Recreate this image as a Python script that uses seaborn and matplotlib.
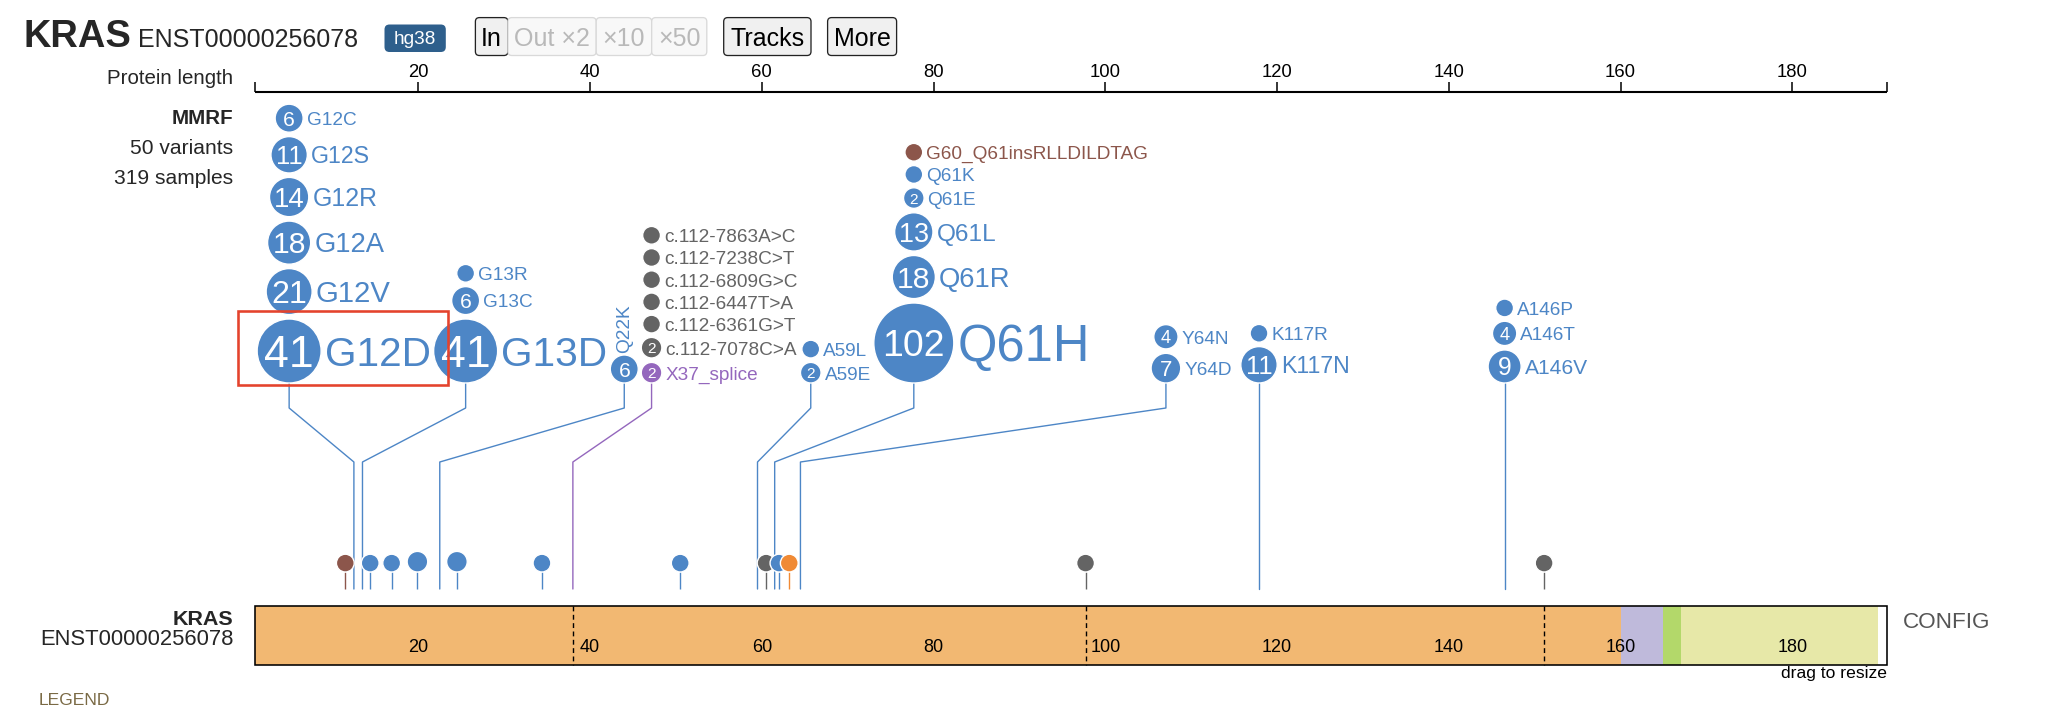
import numpy as np
import pandas as pd
import matplotlib
matplotlib.use("Agg")
import matplotlib.pyplot as plt
import seaborn as sns
from matplotlib.patches import Rectangle, FancyBboxPatch
from matplotlib.font_manager import FontProperties

# ---- values (KRAS, MMRF track) ----
gene = "KRAS"
transcript = "ENST00000256078"
genome = "hg38"
track_name = "MMRF"
n_variants = 50
n_samples = 319

ruler_ticks = [20, 40, 60, 80, 100, 120, 140, 160, 180]
ruler_start, ruler_end = 1, 191
domain_start = [1, 160, 165, 167]
domain_end = [160, 165, 167, 190]
exon_bounds = [38.0, 97.7, 151.1]

# expanded clusters, stem position on the ruler (codon centre)
cluster_pos = [12.5, 13.5, 22.5, 38.0, 59.5, 61.5, 64.5, 117.9, 146.5]

var_label = ["G12C", "G12S", "G12R", "G12A", "G12V", "G12D",
             "G13R", "G13C", "G13D",
             "Q22K",
             "c.112-7863A>C", "c.112-7238C>T", "c.112-6809G>C", "c.112-6447T>A",
             "c.112-6361G>T", "c.112-7078C>A", "X37_splice",
             "A59L", "A59E",
             "G60_Q61insRLLDILDTAG", "Q61K", "Q61E", "Q61L", "Q61R", "Q61H",
             "Y64N", "Y64D",
             "K117R", "K117N",
             "A146P", "A146T", "A146V"]
var_count = [6, 11, 14, 18, 21, 41,
             1, 6, 41,
             6,
             1, 1, 1, 1, 1, 2, 2,
             1, 2,
             1, 1, 2, 13, 18, 102,
             4, 7,
             1, 11,
             1, 4, 9]
var_class = (["missense"] * 10 + ["intron"] * 6 + ["splice"] + ["missense"] * 2
             + ["ins"] + ["missense"] * 12)
var_cluster = [0] * 6 + [1] * 3 + [2] + [3] * 7 + [4] * 2 + [5] * 6 + [6] * 2 + [7] * 2 + [8] * 3

# variants left on the stems just above the protein
low_pos = [11.5, 14.4, 16.9, 19.9, 24.5, 34.4, 50.5, 60.5, 62.0, 63.2, 97.7, 151.1]
low_count = [1, 1, 1, 2, 2, 1, 1, 1, 1, 1, 1, 1]
low_class = ["ins", "missense", "missense", "missense", "missense", "missense",
             "missense", "intron", "missense", "nonsense", "intron", "intron"]

buttons = ["In", "Out \u00d72", "\u00d710", "\u00d750", "Tracks", "More"]

# ---- style ----
class_colors = {"missense": "#4d86c6", "intron": "#646464", "splice": "#9467bd",
                "ins": "#8c564b", "nonsense": "#f08a35"}
domain_colors = ["#f2b872", "#bfbadb", "#b3d86a", "#e7e8a8"]
FONT = ["Liberation Sans", "DejaVu Sans"]

sns.set_style("white")
plt.rcParams["font.family"] = FONT

W, H, DPI = 2050, 712, 100
PT = 72 / DPI                      # px -> pt
PX20, PX_PER_AA = 418.3, 8.5875    # where the ruler sits
x_lo = 20 - PX20 / PX_PER_AA
x_hi = x_lo + W / PX_PER_AA

fig = plt.figure(figsize=(W / DPI, H / DPI), dpi=DPI)
fig.patch.set_facecolor("white")
hud = fig.add_axes([0, 0, 1, 1])
hud.set_xlim(0, W)
hud.set_ylim(H, 0)
hud.set_axis_off()
ax = fig.add_axes([0, 0, 1, 1])
ax.set_xlim(x_lo, x_hi)
ax.set_ylim(H, 0)
ax.set_axis_off()

renderer = fig.canvas.get_renderer()


def to_px(v):
    return ax.transData.transform((v, 0))[0]


def to_x(p):
    return ax.transData.inverted().transform((p, 0))[0]


def text_w(s, px, weight="normal"):
    fp = FontProperties(family=FONT, size=px * PT, weight=weight)
    return renderer.get_text_width_height_descent(s, fp, ismath=False)[0]


# disc radius scale (count -> px)
r_count = [1, 2, 6, 11, 21, 41, 102]
r_px = [8.9, 10.3, 14, 18.2, 23, 32, 40]


def radius(n):
    return float(np.interp(n, r_count, r_px))


STACK_BASE = 383.0
STACK_GAP = 4.4
LABEL_PAD = 3.5
CL_GAP = 3.0
KINK1, KINK2, STEM_END = 408, 462, 589
LOW_BASE = 572

# ---- layout of expanded clusters ----
nv = len(var_label)
n_cl = len(cluster_pos)
var_r = [radius(c) for c in var_count]
var_fs = [max(19, 1.27 * r) for r in var_r]
var_w = [text_w(l, f) for l, f in zip(var_label, var_fs)]
members = [[i for i in range(nv) if var_cluster[i] == c] for c in range(n_cl)]
L = [max(var_r[i] for i in m) for m in members]
R = [L[c] if len(m) == 1 else max(var_r[i] + LABEL_PAD + var_w[i] for i in m)
     for c, m in enumerate(members)]

var_y = [0.0] * nv
for m in members:
    y = STACK_BASE
    for i in reversed(m):
        var_y[i] = y - var_r[i]
        y -= 2 * var_r[i] + STACK_GAP

# pack clusters left to right, as close to their stems as they fit
left_bound = to_px(ruler_start) + 2
desired = [to_px(p) for p in cluster_pos]
blocks = []
for c in range(n_cl):
    blocks.append({"idx": [c], "offs": [0.0], "x": max(desired[c], left_bound + L[c])})
    while len(blocks) > 1:
        a, b = blocks[-2], blocks[-1]
        a_right = a["x"] + a["offs"][-1] + R[a["idx"][-1]]
        b_left = b["x"] - L[b["idx"][0]]
        if a_right + CL_GAP <= b_left:
            break
        shift = a["offs"][-1] + R[a["idx"][-1]] + CL_GAP + L[b["idx"][0]]
        idx = a["idx"] + b["idx"]
        offs = a["offs"] + [shift + o for o in b["offs"]]
        x0 = np.mean([desired[k] - o for k, o in zip(idx, offs)])
        x0 = max(x0, left_bound + L[idx[0]])
        blocks[-2:] = [{"idx": idx, "offs": offs, "x": x0}]
cl_x = [0.0] * n_cl
for b in blocks:
    for k, o in zip(b["idx"], b["offs"]):
        cl_x[k] = b["x"] + o
var_xpx = [cl_x[var_cluster[i]] for i in range(nv)]

# ---- ruler ----
ax.plot([ruler_start, ruler_end], [91.7, 91.7], color="black", lw=1.5, solid_capstyle="butt")
ax.vlines(ruler_ticks + [ruler_start, ruler_end], 82, 91.7, color="black", lw=1.1)
for v in ruler_ticks:
    ax.text(v, 77.3, str(v), ha="center", va="baseline", fontsize=18.5 * PT, color="black")

# ---- stems ----
for c, m in enumerate(members):
    xt = to_x(cl_x[c])
    col = class_colors[var_class[m[-1]]]
    ax.plot([xt, xt, cluster_pos[c], cluster_pos[c]], [STACK_BASE, KINK1, KINK2, STEM_END],
            color=col, lw=1.0, zorder=2)
low_r = [radius(c) for c in low_count]
for p, cl in zip(low_pos, low_class):
    ax.vlines(p, LOW_BASE, STEM_END, color=class_colors[cl], lw=1.0, zorder=2)

# ---- discs ----
top_df = pd.DataFrame({
    "x": [to_x(p) for p in var_xpx],
    "y": var_y,
    "cls": var_class,
    "area": [(2 * r * PT) ** 2 for r in var_r],
})
low_df = pd.DataFrame({
    "x": low_pos,
    "y": [LOW_BASE - r for r in low_r],
    "cls": low_class,
    "area": [(2 * r * PT) ** 2 for r in low_r],
})
for df in (low_df, top_df):
    sns.scatterplot(data=df, x="x", y="y", hue="cls", palette=class_colors,
                    size="area", sizes={a: a for a in df["area"].unique()},
                    edgecolor="white", linewidth=1.0, legend=False, ax=ax, zorder=3)

for i in range(nv):
    r, cnt = var_r[i], var_count[i]
    xd, y = to_x(var_xpx[i]), var_y[i]
    if cnt > 1:
        em = min(1.5 * r, 2.8 * r / len(str(cnt)))
        ax.text(xd, y + 0.358 * em, str(cnt), color="white", fontsize=em * PT,
                ha="center", va="baseline", zorder=4)
    col = class_colors[var_class[i]]
    fs = var_fs[i]
    if len(members[var_cluster[i]]) == 1:
        ax.text(xd, y - r - 2, var_label[i], color=col, fontsize=fs * PT, rotation=90,
                ha="center", va="bottom", zorder=4)
    else:
        ax.text(to_x(var_xpx[i] + r + LABEL_PAD), y + 0.358 * fs, var_label[i], color=col,
                fontsize=fs * PT, ha="left", va="baseline", zorder=4)

# highlight box around G12D
k = var_label.index("G12D")
bx0 = var_xpx[k] - var_r[k] - 19
bx1 = var_xpx[k] + var_r[k] + LABEL_PAD + var_w[k] + 17
by0 = var_y[k] - var_r[k] - 8
by1 = var_y[k] + var_r[k] + 1.5
ax.add_patch(Rectangle((bx0, by0), bx1 - bx0, by1 - by0, fill=False, ec="#e4432d",
                       lw=2.6 * PT, transform=hud.transData, zorder=6))

# ---- protein bar ----
BAR_TOP, BAR_BOT = 605.7, 665.0
ax.add_patch(Rectangle((ruler_start, BAR_TOP), ruler_end - ruler_start, BAR_BOT - BAR_TOP,
                       facecolor="white", edgecolor="none", zorder=1))
for s, e, col in zip(domain_start, domain_end, domain_colors):
    ax.add_patch(Rectangle((s, BAR_TOP), e - s, BAR_BOT - BAR_TOP, facecolor=col,
                           edgecolor="none", zorder=1))
ax.vlines(exon_bounds, BAR_TOP, BAR_BOT, colors="black", linestyles=(0, (3.5, 2.5)),
          lw=1.0, zorder=2)
ax.add_patch(Rectangle((ruler_start, BAR_TOP), ruler_end - ruler_start, BAR_BOT - BAR_TOP,
                       fill=False, edgecolor="black", lw=1.6 * PT, zorder=2))
for v in ruler_ticks:
    ax.text(v, 652.5, str(v), ha="center", va="baseline", fontsize=18 * PT, color="black", zorder=3)

ax.set_xlim(x_lo, x_hi)
ax.set_ylim(H, 0)

# ---- header and side labels ----
hud.text(23, 47, gene, fontsize=38 * PT, fontweight="bold", va="baseline", ha="left")
hud.text(138.5, 47, transcript, fontsize=25 * PT, va="baseline", ha="left")
hud.add_patch(FancyBboxPatch((384.5, 24.5), 61.3, 27.5, boxstyle="round,pad=0,rounding_size=5",
                             facecolor="#2e5f8c", edgecolor="none"))
hud.text(415.2, 44, genome, color="white", fontsize=19 * PT, ha="center", va="baseline")

btn_x = [(475.4, 507.9), (507.9, 596.2), (596.2, 651.7), (651.7, 706.8), (723.7, 811.0), (827.6, 896.6)]
btn_on = [True, False, False, False, True, True]
for lab, (x0, x1), on in zip(buttons, btn_x, btn_on):
    hud.add_patch(FancyBboxPatch((x0, 17.6), x1 - x0, 37.9, boxstyle="round,pad=0,rounding_size=4",
                                 facecolor="#f0f0f0" if on else "#f8f8f8",
                                 edgecolor="#222222" if on else "#d9d9d9", lw=1.3 * PT))
    hud.text((x0 + x1) / 2, 46, lab, color="black" if on else "#b9b9b9", fontsize=25 * PT,
             ha="center", va="baseline")

hud.text(233, 84, "Protein length", fontsize=20.5 * PT, ha="right", va="baseline")
hud.text(233, 123.5, track_name, fontsize=20.5 * PT, fontweight="bold", ha="right", va="baseline")
hud.text(233, 153.5, f"{n_variants} variants", fontsize=21 * PT, ha="right", va="baseline")
hud.text(233, 183.5, f"{n_samples} samples", fontsize=21 * PT, ha="right", va="baseline")

hud.text(233.5, 625, gene, fontsize=21.5 * PT, fontweight="bold", ha="right", va="baseline")
hud.text(233.5, 645, transcript, fontsize=22 * PT, ha="right", va="baseline")
hud.text(39, 705, "LEGEND", fontsize=17.5 * PT, color="#7a6a45", ha="left", va="baseline")
hud.text(1903, 628, "CONFIG", fontsize=22.5 * PT, color="#555555", ha="left", va="baseline")
hud.text(1887, 678, "drag to resize", fontsize=17.5 * PT, color="black", ha="right", va="baseline")

fig.savefig("out.png", dpi=DPI, facecolor="white")
